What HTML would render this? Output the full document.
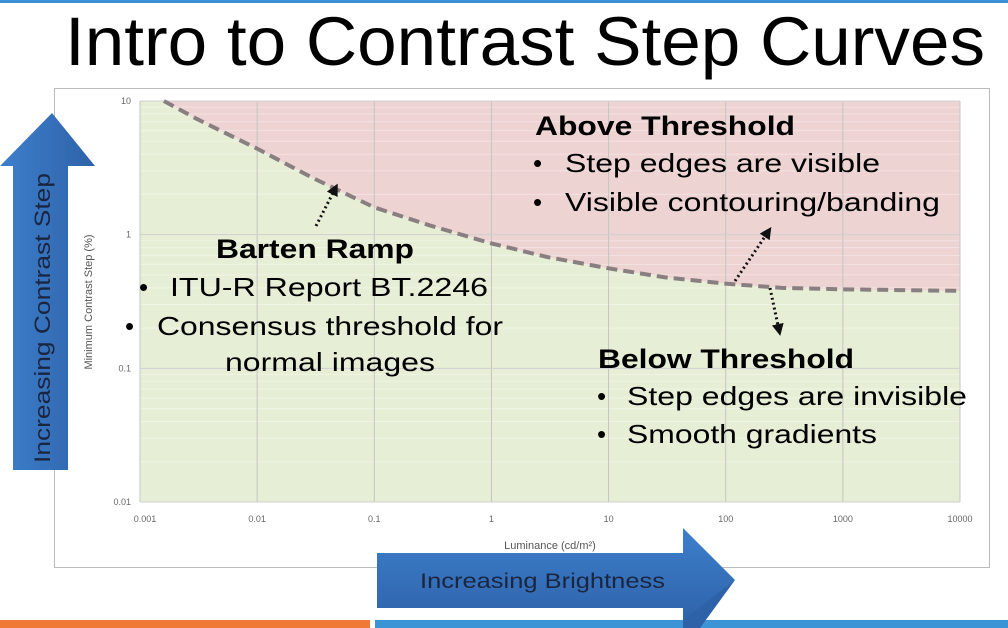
<!DOCTYPE html>
<html><head><meta charset="utf-8"><style>
html,body{margin:0;padding:0;background:#fff;}
svg{display:block;font-family:"Liberation Sans",sans-serif;}
</style></head><body>
<svg id="chart" width="1008" height="628" viewBox="0 0 1008 628">
<defs>
<linearGradient id="ag" x1="0" y1="0" x2="1" y2="0"><stop offset="0" stop-color="#3d7fcc"/><stop offset="1" stop-color="#2e62a8"/></linearGradient>
<linearGradient id="ag2" x1="0" y1="0" x2="0" y2="1"><stop offset="0" stop-color="#3d7fcc"/><stop offset="1" stop-color="#2e62a8"/></linearGradient>
<marker id="ah" viewBox="0 0 10 10" refX="5" refY="5" markerWidth="4" markerHeight="4" orient="auto"><path d="M0,0 L10,5 L0,10 z" fill="#111"/></marker>
</defs>
<rect x="0" y="0" width="1008" height="3" fill="#3a8fd6"/>
<text x="65" y="65" font-size="69" textLength="920" lengthAdjust="spacingAndGlyphs" fill="#000">Intro to Contrast Step Curves</text>
<rect x="54.5" y="88.5" width="935" height="479" fill="#fff" stroke="#bbb"/>
<g id="plot"></g>
<g id="axes"></g>
<text transform="translate(92,302) rotate(-90)" text-anchor="middle" font-size="11" fill="#555">Minimum Contrast Step (%)</text>
<text x="550" y="549" text-anchor="middle" font-size="11" fill="#555">Luminance (cd/m²)</text>

<!-- up arrow -->
<path d="M13,470 L13,166 L0,166 L52,113 L95,166 L68,166 L68,470 Z" fill="url(#ag)"/>
<text transform="translate(50,318) rotate(-90)" text-anchor="middle" font-size="22" fill="#1a2540" textLength="290" lengthAdjust="spacingAndGlyphs">Increasing Contrast Step</text>
<!-- right arrow -->
<path d="M377,553 L683,553 L683,528 L735,580 L683,628 L683,608 L377,608 Z" fill="url(#ag2)"/>
<text x="420" y="588" font-size="21" fill="#1a2540" textLength="245" lengthAdjust="spacingAndGlyphs">Increasing Brightness</text>

<!-- annotations -->
<g fill="#000">
<text x="535" y="135" font-size="27" font-weight="bold" textLength="260" lengthAdjust="spacingAndGlyphs">Above Threshold</text>
<text x="533" y="172" font-size="26">•</text>
<text x="565" y="172" font-size="26" textLength="315" lengthAdjust="spacingAndGlyphs">Step edges are visible</text>
<text x="533" y="211" font-size="26">•</text>
<text x="565" y="211" font-size="26" textLength="375" lengthAdjust="spacingAndGlyphs">Visible contouring/banding</text>
<text x="598" y="368" font-size="27" font-weight="bold" textLength="256" lengthAdjust="spacingAndGlyphs">Below Threshold</text>
<text x="597" y="405" font-size="26">•</text>
<text x="627" y="405" font-size="26" textLength="340" lengthAdjust="spacingAndGlyphs">Step edges are invisible</text>
<text x="597" y="443" font-size="26">•</text>
<text x="627" y="443" font-size="26" textLength="250" lengthAdjust="spacingAndGlyphs">Smooth gradients</text>
<text x="216" y="258" font-size="27" font-weight="bold" textLength="198" lengthAdjust="spacingAndGlyphs">Barten Ramp</text>
<text x="139" y="296" font-size="26">•</text>
<text x="170" y="296" font-size="26" textLength="318" lengthAdjust="spacingAndGlyphs">ITU-R Report BT.2246</text>
<text x="125" y="335" font-size="26">•</text>
<text x="157" y="335" font-size="26" textLength="346" lengthAdjust="spacingAndGlyphs">Consensus threshold for</text>
<text x="225" y="371" font-size="26" textLength="210" lengthAdjust="spacingAndGlyphs">normal images</text>
</g>
<g stroke="#111" stroke-width="3" stroke-dasharray="2 3" fill="none" marker-end="url(#ah)">
<line x1="316" y1="226" x2="335" y2="189"/>
<line x1="735" y1="281" x2="768" y2="232"/>
<line x1="770" y1="288" x2="779" y2="330"/>
</g>
<rect x="0" y="620" width="370" height="8" fill="#f07a35"/>
<rect x="375" y="620" width="633" height="8" fill="#3a94d6"/>
<path d="M683,620 L735,580 L700,628 L683,628 Z" fill="#2e62a8"/>
</svg>
<script>
const luminance=[0.0016,0.003,0.01,0.03,0.1,0.3,1,3,10,30,100,300,1000,3000,10000];
const contrastStep=[10,7.4,4.4,2.65,1.6,1.17,0.86,0.68,0.56,0.48,0.43,0.4,0.39,0.385,0.38];
const xTicks=["0.001","0.01","0.1","1","10","100","1000","10000"];
const yTicks=["10","1","0.1","0.01"];
const NS="http://www.w3.org/2000/svg";
const X0=140,X1=960,Y0=101,Y1=502;
const xs=v=>X0+(Math.log10(v)+3)/7*(X1-X0);
const ys=v=>Y0+(1-Math.log10(v))/3*(Y1-Y0);
const plot=document.getElementById('plot'),axes=document.getElementById('axes');
function mk(t,a,p){const e=document.createElementNS(NS,t);for(const k in a)e.setAttribute(k,a[k]);(p||plot).appendChild(e);return e;}
// green background
const g=mk('rect',{x:X0,y:Y0,width:X1-X0,height:Y1-Y0,fill:'#e6efd6'});


// red region above curve
let d='M'+X0+','+Y0+' L'+xs(luminance[0])+','+ys(contrastStep[0]);
luminance.forEach((v,i)=>{d+=' L'+xs(v)+','+ys(contrastStep[i]);});
d+=' L'+X1+','+ys(contrastStep[contrastStep.length-1])+' L'+X1+','+Y0+' Z';
const r=mk('path',{d:d,fill:'#eed3d3'});


// minor horizontal grid
for(let dec=0;dec<3;dec++)for(let m=2;m<=9;m++){const yv=ys(Math.pow(10,-2+dec)*m);
const l=mk('line',{x1:X0,x2:X1,y1:yv,y2:yv,stroke:'#fff',"stroke-opacity":0.35,"stroke-width":1});

}
xTicks.forEach(t=>{const x=xs(parseFloat(t));
const l=mk('line',{x1:x,x2:x,y1:Y0,y2:Y1,stroke:'#c4c4c4',"stroke-width":1});


const tx=mk('text',{x:x+(t==="0.001"?5:0),y:522,"text-anchor":"middle","font-size":9,fill:'#666'},axes);
tx.textContent=t;

});
yTicks.forEach(t=>{const y=ys(parseFloat(t));
const l=mk('line',{x1:X0,x2:X1,y1:y,y2:y,stroke:'#d0d0d0',"stroke-width":1});


const tx=mk('text',{x:X0-9,y:y+3,"text-anchor":"end","font-size":9,fill:'#666'},axes);
tx.textContent=t;

});
// curve
let cd='';luminance.forEach((v,i)=>{cd+=(i?' L':'M')+xs(v)+','+ys(contrastStep[i]);});
const c=mk('path',{d:cd,fill:'none',stroke:'#8a7f80',"stroke-width":4,"stroke-dasharray":"11 6"});


</script>
</body></html>
